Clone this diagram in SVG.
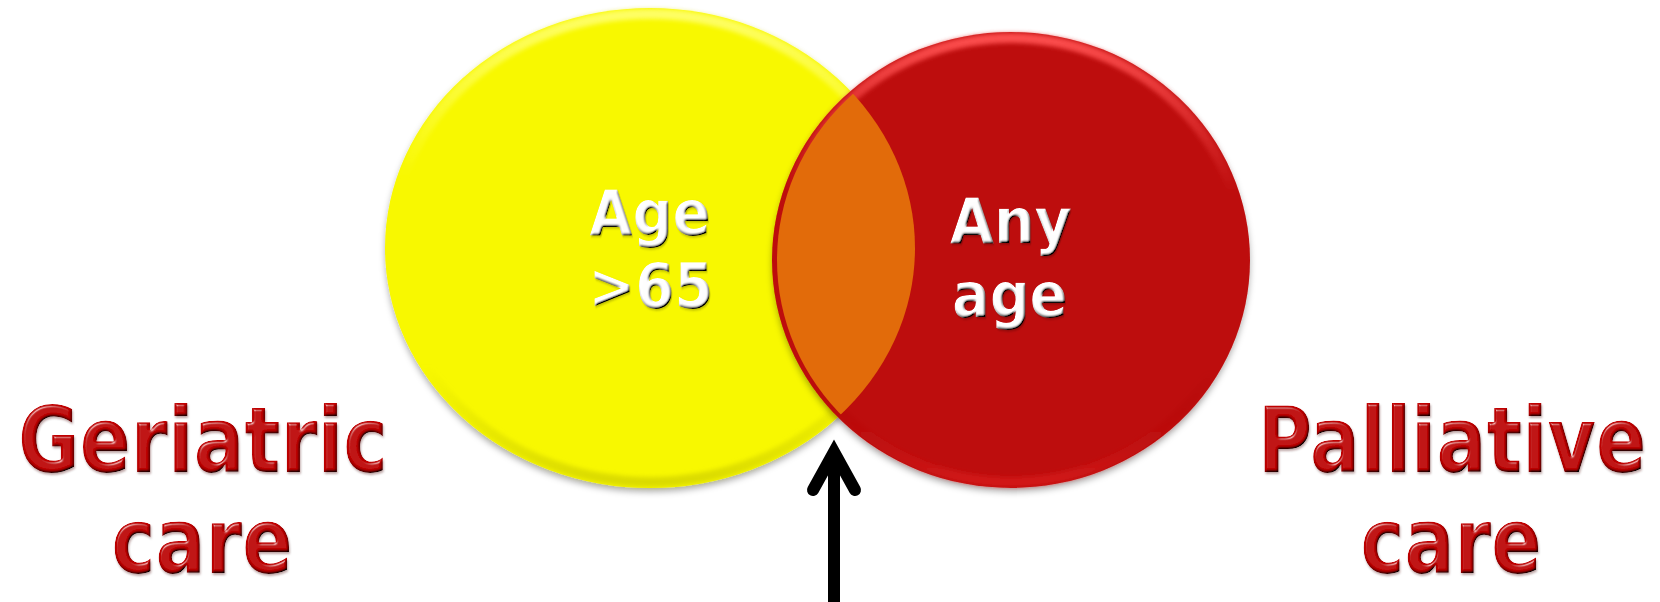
<svg xmlns="http://www.w3.org/2000/svg" width="1660" height="602" viewBox="0 0 1660 602">
  <style>
    .lbl { font-family: 'DejaVu Sans', Verdana, sans-serif; font-weight: bold; font-size: 90px; fill: #c00000; text-anchor: middle; }
    .inner { font-family: 'DejaVu Sans', Verdana, sans-serif; font-weight: bold; font-size: 63px; fill: #ffffff; text-anchor: middle; }
    .arrow { fill: none; stroke: #000000; stroke-width: 12; }
  </style>
  <defs>
    <filter id="shadow" x="-10%" y="-10%" width="120%" height="125%">
      <feDropShadow dx="0" dy="4" stdDeviation="3" flood-color="#000" flood-opacity="0.3"/>
    </filter>
    <filter id="bevel" x="-5%" y="-15%" width="110%" height="135%">
      <feGaussianBlur in="SourceAlpha" stdDeviation="1.6" result="b"/>
      <feSpecularLighting in="b" surfaceScale="3" specularConstant="0.8" specularExponent="40" lighting-color="#ffffff" result="s">
        <feDistantLight azimuth="235" elevation="40"/>
      </feSpecularLighting>
      <feComposite in="s" in2="SourceAlpha" operator="in" result="sc"/>
      <feDiffuseLighting in="b" surfaceScale="3" diffuseConstant="1.25" lighting-color="#ffffff" result="d">
        <feDistantLight azimuth="235" elevation="53"/>
      </feDiffuseLighting>
      <feComposite in="SourceGraphic" in2="d" operator="arithmetic" k1="1" k2="0" k3="0" k4="0" result="shade"/>
      <feComposite in="shade" in2="sc" operator="arithmetic" k1="0" k2="1" k3="0.5" k4="0" result="lit"/>
      <feComposite in="lit" in2="SourceAlpha" operator="in" result="litc"/>
      <feDropShadow in="litc" dx="1" dy="2" stdDeviation="1" flood-color="#400000" flood-opacity="0.35"/>
    </filter>
    <filter id="bevelW" x="-5%" y="-15%" width="110%" height="135%">
      <feGaussianBlur in="SourceAlpha" stdDeviation="1.4" result="b"/>
      <feDiffuseLighting in="b" surfaceScale="3" diffuseConstant="1.3" lighting-color="#ffffff" result="d">
        <feDistantLight azimuth="235" elevation="50"/>
      </feDiffuseLighting>
      <feComposite in="SourceGraphic" in2="d" operator="arithmetic" k1="1" k2="0" k3="0" k4="0" result="lit"/>
      <feComposite in="lit" in2="SourceAlpha" operator="in" result="litc"/>
      <feDropShadow in="litc" dx="1" dy="1.5" stdDeviation="0.8" flood-color="#000" flood-opacity="0.25"/>
    </filter>
    <filter id="soft"><feGaussianBlur stdDeviation="2"/></filter>
    <linearGradient id="rimY" x1="0" y1="0" x2="0" y2="1">
      <stop offset="0" stop-color="#ffff70" stop-opacity="0.9"/>
      <stop offset="0.35" stop-color="#ffff70" stop-opacity="0"/>
      <stop offset="0.75" stop-color="#d0d000" stop-opacity="0"/>
      <stop offset="1" stop-color="#c8c800" stop-opacity="0.6"/>
    </linearGradient>
    <linearGradient id="rimR" x1="0" y1="0" x2="0" y2="1">
      <stop offset="0" stop-color="#ff5050" stop-opacity="0.95"/>
      <stop offset="0.35" stop-color="#ff5050" stop-opacity="0"/>
      <stop offset="0.75" stop-color="#900000" stop-opacity="0"/>
      <stop offset="1" stop-color="#e02020" stop-opacity="0.6"/>
    </linearGradient>
    <clipPath id="redClip">
      <ellipse cx="1013" cy="260" rx="236" ry="226"/>
    </clipPath>
  </defs>

  <g id="geriatric-circle">
    <ellipse cx="650" cy="248" rx="265" ry="240" fill="#f8f806" filter="url(#shadow)"/>
    <ellipse cx="650" cy="248" rx="259" ry="234" fill="none" stroke="url(#rimY)" stroke-width="10" filter="url(#soft)"/>
    <text class="inner" transform="translate(650,235) scale(0.886,1)" filter="url(#bevelW)">Age</text>
    <text class="inner" transform="translate(651,308) scale(0.89,1)" filter="url(#bevelW)">&gt;65</text>
  </g>

  <g id="palliative-circle">
    <ellipse cx="1011" cy="260" rx="239" ry="228" fill="#bd0a0a" filter="url(#shadow)"/>
    <ellipse cx="1011" cy="260" rx="233" ry="222" fill="none" stroke="url(#rimR)" stroke-width="10" filter="url(#soft)"/>
    <text class="inner" transform="translate(1011,243) scale(0.906,1)" filter="url(#bevelW)">Any</text>
    <text class="inner" transform="translate(1010,317) scale(0.885,1)" filter="url(#bevelW)">age</text>
  </g>

  <g id="overlap">
    <ellipse cx="650" cy="248" rx="265" ry="240" fill="#e26b0a" clip-path="url(#redClip)"/>
  </g>

  <g id="label-geriatric">
    <text class="lbl" transform="translate(203,472) scale(0.836,1)" filter="url(#bevel)">Geriatric</text>
    <text class="lbl" transform="translate(202,573) scale(0.825,1)" filter="url(#bevel)">care</text>
  </g>

  <g id="label-palliative">
    <text class="lbl" transform="translate(1452,472) scale(0.825,1)" filter="url(#bevel)">Palliative</text>
    <text class="lbl" transform="translate(1451,573) scale(0.825,1)" filter="url(#bevel)">care</text>
  </g>

  <g id="connectors">
    <path class="arrow" d="M834,602 V452" stroke-linecap="butt"/>
    <path class="arrow" d="M813,490 L834,452 L855,490" stroke-linecap="round" stroke-linejoin="miter" stroke-miterlimit="10"/>
  </g>
</svg>
